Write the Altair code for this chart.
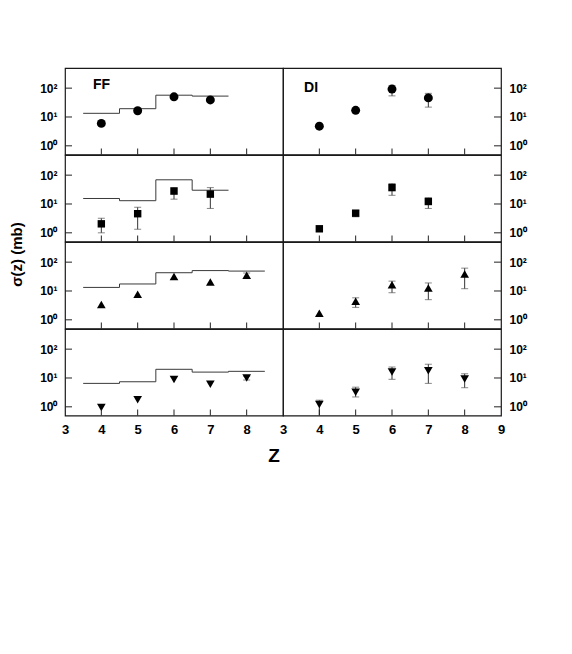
import altair as alt
import pandas as pd

X_DOMAIN = [3, 9]
Y_DOMAIN = [0.5, 500]
W = 218
H = 86.5

# ---- FF (left column), rows: circles, squares, up-triangles, down-triangles
ff_z = [[4, 5, 6, 7], [4, 5, 6, 7], [4, 5, 6, 7, 8], [4, 5, 6, 7, 8]]
ff_val = [[6.0, 16.5, 50, 39], [2.05, 4.6, 28, 22], [3.4, 7.7, 32, 20.6, 35], [0.95, 1.75, 8.8, 6.1, 10]]
ff_lo = [[None, None, None, None], [1.0, 1.33, 14.7, 7.0], [None, None, None, None, 27], [None, None, None, None, 8.5]]
ff_hi = [[None, None, None, None], [3.2, 7.7, 37, 37], [None, None, None, None, 42], [None, None, None, None, 11.5]]
ff_model = [[13.4, 19.4, 57, 53], [15.5, 13, 69, 30], [13.3, 17.5, 43, 51, 49], [6.5, 7.4, 20, 16, 17]]

# ---- DI (right column)
di_z = [[4, 5, 6, 7], [4, 5, 6, 7], [4, 5, 6, 7, 8], [4, 5, 6, 7, 8]]
di_val = [[4.8, 17, 93, 46], [1.38, 4.8, 37, 12.2], [1.7, 4.4, 16.5, 12.7, 39], [1.2, 3.2, 16, 18, 9.2]]
di_lo = [[None, None, 54, 22], [None, 3.6, 20, 7.0], [None, 2.7, 8.7, 5.0, 12], [0.5, 2.2, 9.0, 6.5, 4.6]]
di_hi = [[None, None, 124, 66], [None, 5.9, 51, 16.4], [None, 5.8, 22, 19, 62], [1.7, 4.8, 24, 30, 14]]

shapes = ["circle", "square", "triangle-up", "triangle-down"]
sizes = [80, 55, 75, 75]
x_ticks = [4, 5, 6, 7, 8]
y_ticks = [1, 10, 100]
panel_labels = ["FF", "DI"]
label_pos_z = [3.77, 3.58]
label_pos_v = [124, 100]

FONT = "Liberation Sans"
LABEL_EXPR = "datum.value == 1 ? '10\u2070' : datum.value == 10 ? '10\u00b9' : '10\u00b2'"

xs = alt.Scale(domain=X_DOMAIN, nice=False, zero=False)
ys = alt.Scale(type="log", domain=Y_DOMAIN, nice=False, clamp=True)


def make_panel(row, col):
    zz = (ff_z if col == 0 else di_z)[row]
    vals = (ff_val if col == 0 else di_val)[row]
    los = (ff_lo if col == 0 else di_lo)[row]
    his = (ff_hi if col == 0 else di_hi)[row]

    bottom = row == 3
    if bottom:
        xaxis = alt.Axis(
            values=[3, 4, 5, 6, 7, 8] if col == 0 else [3, 4, 5, 6, 7, 8, 9],
            ticks=False, domain=False, grid=False, labelFlush=False, labelOverlap=False,
            labelFont=FONT, labelFontWeight="bold", labelFontSize=13, labelPadding=8,
            labelColor="black",
            title="Z" if col == 0 else None,
            titleFont=FONT, titleFontWeight="bold", titleFontSize=19, titleColor="black",
            titleX=208.5, titleY=46, titleBaseline="alphabetic", titleAlign="center",
        ) if col == 0 else alt.Axis(
            values=[3, 4, 5, 6, 7, 8, 9],
            ticks=False, domain=False, grid=False, labelFlush=False, labelOverlap=False,
            labelFont=FONT, labelFontWeight="bold", labelFontSize=13, labelPadding=8,
            labelColor="black", title=None,
        )
    else:
        xaxis = None

    yargs = dict(
        values=y_ticks, ticks=False, domain=False, grid=False,
        labelExpr=LABEL_EXPR, labelFont=FONT, labelFontWeight="bold", labelFontSize=12,
        labelColor="black", labelPadding=8, orient="left" if col == 0 else "right",
    )
    if col == 0 and row == 2:
        yargs.update(
            title="\u03c3(z) (mb)", titleFont=FONT, titleFontWeight="bold", titleFontSize=15,
            titleColor="black", titleX=-44, titleY=12, titleAngle=270, titleAlign="center",
            titleBaseline="alphabetic",
        )
    else:
        yargs["title"] = None
    yaxis = alt.Axis(**yargs)

    X = lambda f: alt.X(f + ":Q", scale=xs, axis=xaxis)
    Y = lambda f: alt.Y(f + ":Q", scale=ys, axis=yaxis)

    layers = []

    # model step line (FF only)
    if col == 0:
        model = ff_model[row]
        sx = [z - 0.5 for z in zz] + [zz[-1] + 0.5]
        sv = list(model) + [model[-1]]
        step_df = pd.DataFrame({"Z": sx, "v": sv})
        layers.append(
            alt.Chart(step_df).mark_line(interpolate="step-after", color="#3a3a3a", strokeWidth=1)
            .encode(x=X("Z"), y=Y("v"))
        )

    # error bars
    err = [(z, lo, hi) for z, lo, hi in zip(zz, los, his) if lo is not None]
    if err:
        err_df = pd.DataFrame(err, columns=["Z", "lo", "hi"])
        layers.append(
            alt.Chart(err_df).mark_rule(color="#333", strokeWidth=1)
            .encode(x=X("Z"), y=Y("lo"), y2="hi:Q")
        )
        caps = pd.DataFrame(
            [(z, lo) for z, lo, hi in err if lo > Y_DOMAIN[0]] + [(z, hi) for z, lo, hi in err],
            columns=["Z", "v"],
        )
        layers.append(
            alt.Chart(caps).mark_tick(orient="horizontal", size=7, thickness=1, color="#555")
            .encode(x=X("Z"), y=Y("v"))
        )

    # data points
    pts = pd.DataFrame({"Z": zz, "v": vals})
    layers.append(
        alt.Chart(pts).mark_point(shape=shapes[row], filled=True, size=sizes[row],
                                  color="black", opacity=1)
        .encode(x=X("Z"), y=Y("v"))
    )

    # inward tick marks
    xt = pd.DataFrame({"Z": x_ticks})
    layers.append(
        alt.Chart(xt).mark_rule(color="#222", strokeWidth=1)
        .encode(x=X("Z"), y=alt.value(H - 6), y2=alt.value(H))
    )
    yt = pd.DataFrame({"v": y_ticks})
    if col == 0:
        layers.append(
            alt.Chart(yt).mark_rule(color="#222", strokeWidth=1)
            .encode(y=Y("v"), x=alt.value(0), x2=alt.value(7))
        )
    else:
        layers.append(
            alt.Chart(yt).mark_rule(color="#222", strokeWidth=1)
            .encode(y=Y("v"), x=alt.value(W - 7), x2=alt.value(W))
        )

    if row == 0:
        lab = pd.DataFrame({"Z": [label_pos_z[col]], "v": [label_pos_v[col]], "t": [panel_labels[col]]})
        layers.append(
            alt.Chart(lab).mark_text(align="left", baseline="middle", font=FONT, fontWeight="bold",
                                     fontSize=14, color="black")
            .encode(x=X("Z"), y=Y("v"), text="t:N")
        )

    return alt.layer(*layers).properties(width=W, height=H)


panels = [make_panel(r, c) for r in range(4) for c in range(2)]

chart = (
    alt.concat(*panels, columns=2, spacing=0, bounds="flush")
    .properties(padding={"left": 0, "top": 59, "right": 5, "bottom": 5}, background="white")
    .configure_view(stroke="#1a1a1a", strokeWidth=1.2)
)

chart.save("out.html", embed_options={"renderer": "svg", "actions": False})
